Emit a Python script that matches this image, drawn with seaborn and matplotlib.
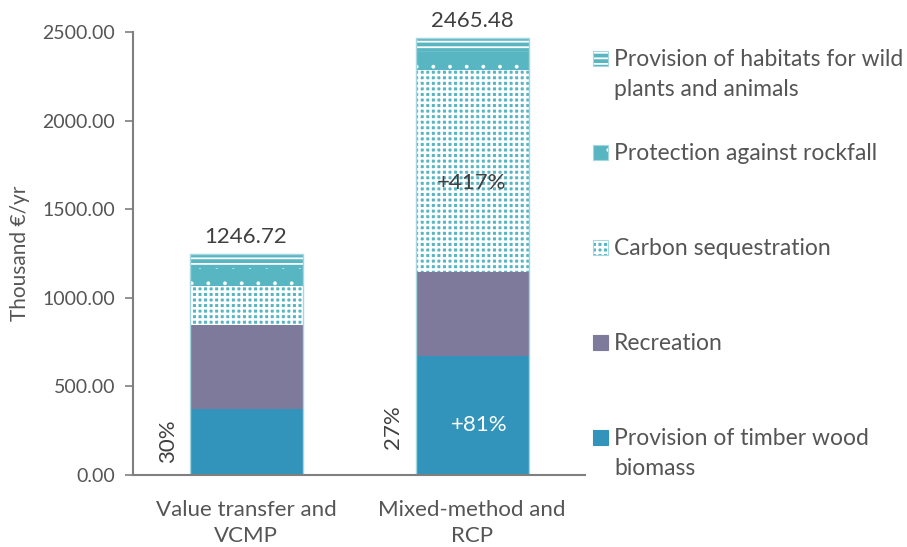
import matplotlib
matplotlib.use("Agg")
import matplotlib.pyplot as plt
import seaborn as sns
import pandas as pd
from matplotlib.patches import Rectangle

# ---- data ----
methods = ["Value transfer and\nVCMP", "Mixed-method and\nRCP"]
services = ["Provision of timber wood biomass", "Recreation", "Carbon sequestration",
            "Protection against rockfall", "Provision of habitats for wild plants and animals"]
timber = [370.0, 670.0]
recreation = [476.0, 476.0]
carbon = [220.0, 1137.0]
rockfall = [100.0, 102.0]
habitats = [80.72, 80.48]
totals = [1246.72, 2465.48]
share_labels = ["30%", "27%"]
change_timber = "+81%"
change_carbon = "+417%"
yticks = [0, 500, 1000, 1500, 2000, 2500]

# ---- style ----
sns.set_theme(style="white")
plt.rcParams["font.family"] = ["Lato", "DejaVu Sans"]
plt.rcParams["hatch.linewidth"] = 1.2
txt = "#555555"
dark = "#404040"
spine = "#7f7f7f"
c_timber = "#3394bb"
c_rec = "#7d7a9b"
c_teal = "#58b6c2"
c_edge = "#a6d6df"

df = pd.DataFrame({
    "method": methods,
    services[0]: timber, services[1]: recreation, services[2]: carbon,
    services[3]: rockfall, services[4]: habitats,
})

styles = {
    services[0]: dict(color=c_timber, hatch=None, hlw=1.0),
    services[1]: dict(color=c_rec, hatch=None, hlw=1.0),
    services[2]: dict(color=c_teal, hatch="+++", hlw=1.8),
    services[3]: dict(color=c_teal, hatch=".", hlw=0.3),
    services[4]: dict(color=c_teal, hatch="---", hlw=1.3),
}

fig = plt.figure(figsize=(9.07, 5.47), dpi=100)
ax = fig.add_axes([133 / 907, 1 - 475 / 547, 452 / 907, 443 / 547])

bottom = [0.0, 0.0]
for s in services:
    st = styles[s]
    n0 = len(ax.patches)
    sns.barplot(data=df, x="method", y=s, order=methods, ax=ax, bottom=bottom,
                color=st["color"], saturation=1, width=0.5, errorbar=None,
                hatch=st["hatch"], edgecolor="white", linewidth=0)
    for p in ax.patches[n0:]:
        if hasattr(p, "set_hatch_linewidth"):
            p.set_hatch_linewidth(st["hlw"])
    bottom = [b + v for b, v in zip(bottom, df[s])]

# outline of whole bars
sns.barplot(data=df.assign(total=totals), x="method", y="total", order=methods, ax=ax,
            fill=False, color=c_edge, width=0.5, errorbar=None, linewidth=1.0)
for p in ax.patches[-2:]:
    p.set_edgecolor(c_edge)

ax.set_xlim(-0.5, 1.5)
ax.set_ylim(0, 2500)
ax.set_yticks(yticks)
ax.set_yticklabels([f"{v:.2f}" for v in yticks])
ax.set_xlabel("")
ax.set_ylabel("Thousand €/yr", fontsize=15, color=txt, labelpad=9)
ax.tick_params(axis="y", labelsize=14, colors=txt, length=6, width=1.2, color=spine, left=True, pad=7)
ax.tick_params(axis="x", labelsize=16, colors=txt, length=0, pad=18)
for lab in ax.get_xticklabels():
    lab.set_linespacing(1.4)
for side in ["top", "right"]:
    ax.spines[side].set_visible(False)
for side in ["left", "bottom"]:
    ax.spines[side].set_color(spine)
    ax.spines[side].set_linewidth(1.5)

# annotations
for i, t in enumerate(totals):
    ax.annotate(f"{t:.2f}", (i, t), xytext=(0, 5), textcoords="offset points",
                ha="center", va="bottom", fontsize=16, color=dark)
ax.text(0 - 0.345, 190, share_labels[0], rotation=90, ha="center", va="center", fontsize=16, color=dark)
ax.text(1 - 0.35, 270, share_labels[1], rotation=90, ha="center", va="center", fontsize=16, color=dark)
ax.text(1 + 0.03, 280, change_timber, ha="center", va="center", fontsize=16, color="white")
ax.text(1, 1650, change_carbon, ha="center", va="center", fontsize=16, color=dark)

# legend (manual, figure pixel coords)
W, H = 907, 547
leg = [
    (services[4], ["Provision of habitats for wild", "plants and animals"], 59),
    (services[3], ["Protection against rockfall"], 153),
    (services[2], ["Carbon sequestration"], 248),
    (services[1], ["Recreation"], 343),
    (services[0], ["Provision of timber wood", "biomass"], 438),
]
for s, lines, yc in leg:
    st = styles[s]
    r = Rectangle((593 / W, 1 - (yc + 7) / H), 15 / W, 15 / H, transform=fig.transFigure,
                  facecolor=st["color"], edgecolor="white" if st["hatch"] else st["color"],
                  hatch=st["hatch"], linewidth=0)
    if hasattr(r, "set_hatch_linewidth"):
        r.set_hatch_linewidth(st["hlw"])
    fig.add_artist(r)
    fig.add_artist(Rectangle((593 / W, 1 - (yc + 7) / H), 15 / W, 15 / H, transform=fig.transFigure,
                             fill=False, edgecolor=c_edge if st["hatch"] else st["color"], linewidth=0.8))
    for k, line in enumerate(lines):
        fig.text(614 / W, 1 - (yc + 7 + 30 * k) / H, line, ha="left", va="baseline",
                 fontsize=16.5, color=txt)

fig.savefig("out.png", dpi=100)
